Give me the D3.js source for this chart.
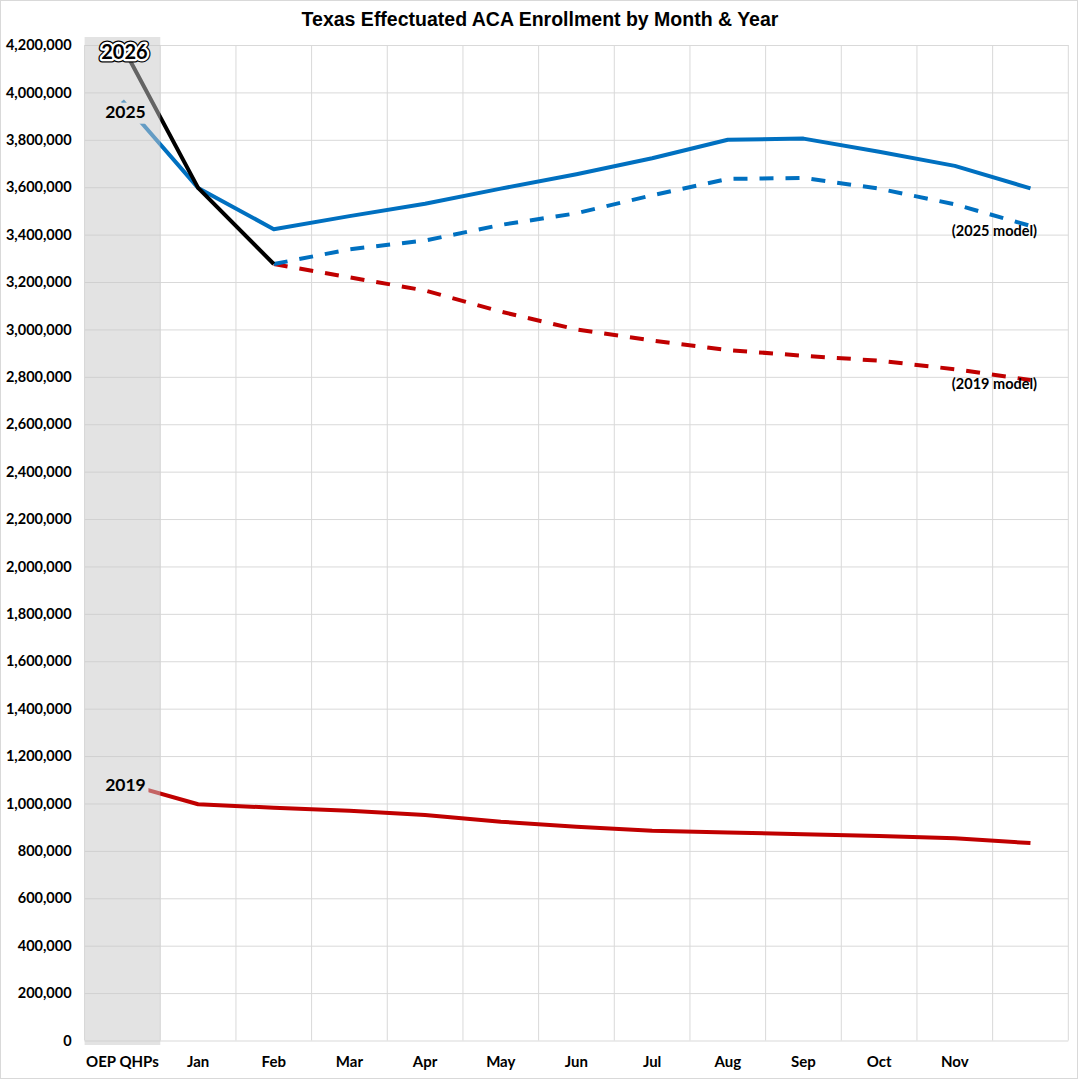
<!DOCTYPE html>
<html>
<head>
<meta charset="utf-8">
<script src="https://cdn.jsdelivr.net/npm/d3@7"></script>
<style>
  html, body { margin: 0; padding: 0; background: #fff; }
  svg { display: block; }
</style>
</head>
<body>
<svg id="chart" width="1081" height="1080"></svg>
<script>
// categories along the x axis (Dec has no printed label)
const months = ['OEP QHPs', 'Jan', 'Feb', 'Mar', 'Apr', 'May', 'Jun', 'Jul', 'Aug', 'Sep', 'Oct', 'Nov', 'Dec'];
const monthLabels = ['OEP QHPs', 'Jan', 'Feb', 'Mar', 'Apr', 'May', 'Jun', 'Jul', 'Aug', 'Sep', 'Oct', 'Nov', ''];

// effectuated enrollment
const y2019 = [1087000, 996600, 982000, 969600, 951400, 923000, 902000, 885000, 878000, 870000, 863000, 853000, 833000];
const y2025 = [3965000, 3597000, 3423000, 3478000, 3530000, 3594000, 3655000, 3722000, 3800000, 3805000, 3750000, 3690000, 3595000];
const y2026 = [4195000, 3597000, 3276000, null, null, null, null, null, null, null, null, null, null];
const model2025 = [null, null, 3276000, 3338000, 3375000, 3441000, 3490000, 3566000, 3635000, 3639000, 3594000, 3528000, 3437000];
const model2019 = [null, null, 3276000, 3220000, 3164000, 3075000, 3000000, 2953000, 2913000, 2889000, 2868000, 2832000, 2787000];

const yTicks = d3.range(0, 4200001, 200000);

const svg = d3.select('#chart');
const plot = { left: 84.6, right: 1068.3, top: 45, bottom: 1040.5 };

const x = d3.scaleBand().domain(months).range([plot.left, plot.right]);
const y = d3.scaleLinear().domain([0, 4200000]).range([plot.bottom, plot.top]);
const cx = (i) => x(months[i]) + x.bandwidth() / 2;

const GRID = '#d9d9d9';
const BAND_SOLID = '#e3e3e3';

// chart border
svg.append('rect')
  .attr('x', 0.5).attr('y', 0.5)
  .attr('width', 1077).attr('height', 1078)
  .attr('fill', 'none').attr('stroke', GRID);

// title
svg.append('text')
  .attr('x', 540).attr('y', 26)
  .attr('text-anchor', 'middle')
  .style('font-family', '"Liberation Sans", Arial, sans-serif')
  .style('font-weight', 'bold')
  .style('font-size', '19.5px')
  .text('Texas Effectuated ACA Enrollment by Month & Year');

// horizontal grid + y labels
const yAxis = svg.append('g')
  .attr('transform', `translate(${plot.left},0)`)
  .call(d3.axisLeft(y).tickValues(yTicks).tickFormat(d3.format(',')).tickSize(-(plot.right - plot.left)).tickPadding(13));
yAxis.select('.domain').remove();
yAxis.selectAll('.tick line').attr('stroke', GRID);
yAxis.selectAll('.tick text')
  .style('font-family', 'Lato, "Open Sans", sans-serif')
  .style('font-weight', 'bold')
  .style('font-size', '14.5px')
  .attr('fill', '#000');

// vertical grid on band edges
svg.append('g')
  .selectAll('line')
  .data(months.map((m) => x(m) + x.bandwidth()).concat([plot.left]))
  .join('line')
  .attr('x1', (d) => d).attr('x2', (d) => d)
  .attr('y1', plot.top).attr('y2', plot.bottom)
  .attr('stroke', GRID);

// x labels
const xAxis = svg.append('g')
  .attr('transform', `translate(0,${plot.bottom})`)
  .call(d3.axisBottom(x).tickSize(0).tickPadding(16).tickFormat((d, i) => monthLabels[i]));
xAxis.select('.domain').remove();
xAxis.selectAll('.tick text')
  .style('font-family', 'Lato, "Open Sans", sans-serif')
  .style('font-weight', 'bold')
  .style('font-size', '15px')
  .attr('fill', '#000');

// series
const line = d3.line()
  .defined((d) => d != null)
  .x((d, i) => cx(i))
  .y((d) => y(d));

const series = [
  { values: y2019, color: '#C00000', dash: null },
  { values: model2019, color: '#C00000', dash: '14,12' },
  { values: model2025, color: '#0070C0', dash: '14,12' },
  { values: y2025, color: '#0070C0', dash: null },
  { values: y2026, color: '#000000', dash: null }
];

svg.append('g')
  .selectAll('path')
  .data(series)
  .join('path')
  .attr('d', (s) => line(s.values))
  .attr('fill', 'none')
  .attr('stroke', (s) => s.color)
  .attr('stroke-width', 4)
  .attr('stroke-dasharray', (s) => s.dash)
  .attr('stroke-linejoin', 'round');

// translucent shading over the open-enrollment column
svg.append('rect')
  .attr('x', x('OEP QHPs')).attr('y', 37)
  .attr('width', x.bandwidth()).attr('height', 1045 - 37)
  .attr('fill', 'rgb(200,200,200)').attr('fill-opacity', 0.5);

// year labels for the OEP column
const labelFont = (sel, size) => sel
  .style('font-family', 'Lato, "Open Sans", sans-serif')
  .style('font-weight', 'bold')
  .style('font-size', size + 'px');

const c0 = cx(0);

// mask boxes behind the labels (same tone as the shading)
[[c0 - 21, y(y2025[0]) + 2, 47, 21], [c0 - 21, y(y2019[0]) - 6, 47, 19], [c0 - 7, y(y2026[0]), 14, 15]]
  .forEach(([bx, by, bw, bh]) => {
    svg.append('rect').attr('x', bx).attr('y', by).attr('width', bw).attr('height', bh).attr('fill', BAND_SOLID);
  });

svg.append('text')
  .attr('x', c0 + 3).attr('y', y(y2025[0]) + 13)
  .attr('text-anchor', 'middle').attr('dominant-baseline', 'middle')
  .call(labelFont, 17.5)
  .text('2025');

svg.append('text')
  .attr('x', c0 + 3).attr('y', y(y2019[0]) + 4)
  .attr('text-anchor', 'middle').attr('dominant-baseline', 'middle')
  .call(labelFont, 17.5)
  .text('2019');

// 2026 label: black text with a white halo and a thin dark rim
const lbl26 = { x: c0 + 2, y: y(y2026[0]) + 8 };
[['#000', 7], ['#fff', 4.5]].forEach(([c, w]) => {
  svg.append('text')
    .attr('x', lbl26.x).attr('y', lbl26.y)
    .attr('text-anchor', 'middle').attr('dominant-baseline', 'middle')
    .call(labelFont, 20)
    .attr('fill', c).attr('stroke', c).attr('stroke-width', w).attr('stroke-linejoin', 'round')
    .text('2026');
});
svg.append('text')
  .attr('x', lbl26.x).attr('y', lbl26.y)
  .attr('text-anchor', 'middle').attr('dominant-baseline', 'middle')
  .call(labelFont, 20)
  .attr('fill', '#000')
  .text('2026');

// model labels at the end of the dashed lines
const last = months.length - 1;
svg.append('text')
  .attr('x', cx(last) - 36).attr('y', y(model2025[last]) + 6)
  .attr('text-anchor', 'middle').attr('dominant-baseline', 'middle')
  .call(labelFont, 14.5)
  .text('(2025 model)');
svg.append('text')
  .attr('x', cx(last) - 36).attr('y', y(model2019[last]) + 5)
  .attr('text-anchor', 'middle').attr('dominant-baseline', 'middle')
  .call(labelFont, 14.5)
  .text('(2019 model)');
</script>
</body>
</html>
